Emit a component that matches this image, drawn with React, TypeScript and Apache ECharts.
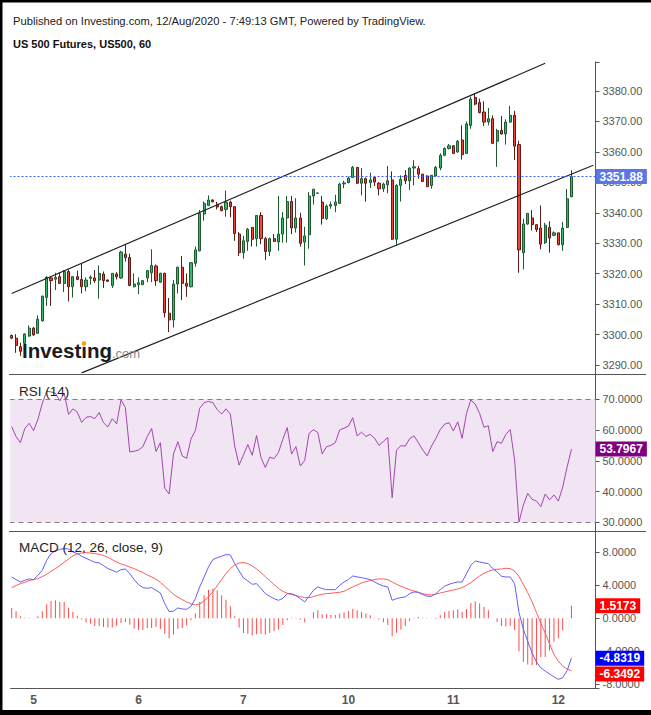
import React, { useEffect, useRef } from 'react';
import * as echarts from 'echarts';

const FONT = '"Liberation Sans", Arial, sans-serif';

// ---------- data ----------
const dayLabels = ['5', '6', '7', '10', '11', '12'];
const dayLabelIndex = [5, 29, 53, 77, 101, 125];
const slotCount = 134; // 129 hourly bars + empty room on the right

const opens = [
  3299.7, 3298.8, 3296.0, 3297.1, 3299.5, 3302.1, 3300.4, 3304.5, 3312.2, 3318.6,
  3318.2, 3319.0, 3316.8, 3320.7, 3315.7, 3319.0, 3318.1, 3315.7, 3318.5, 3318.6,
  3317.9, 3319.9, 3317.9, 3316.1, 3319.9, 3318.6, 3326.4, 3325.3, 3315.7, 3316.4,
  3316.4, 3318.6, 3320.3, 3322.5, 3317.2, 3320.1, 3307.0, 3304.8, 3316.6, 3322.1,
  3316.8, 3315.7, 3323.4, 3327.5, 3339.6, 3342.4, 3344.2, 3342.8, 3342.0, 3341.1,
  3343.5, 3342.0, 3333.0, 3326.9, 3330.6, 3335.2, 3331.5, 3339.1, 3331.5, 3327.3,
  3331.5, 3330.4, 3333.0, 3338.3, 3343.7, 3335.0, 3338.3, 3330.4, 3332.8, 3345.5,
  3346.4, 3343.5, 3338.1, 3342.2, 3342.4, 3343.1, 3349.5, 3349.9, 3351.6, 3354.9,
  3349.7, 3351.2, 3349.9, 3351.6, 3349.7, 3347.9, 3349.2, 3350.8, 3331.3, 3349.0,
  3352.3, 3350.5, 3354.7, 3354.5, 3352.7, 3352.1, 3349.0, 3352.1, 3354.7, 3358.9,
  3361.1, 3362.0, 3360.0, 3363.9, 3359.5, 3368.7, 3377.9, 3376.2, 3373.1, 3369.8,
  3370.9, 3363.5, 3367.0, 3365.9, 3369.8, 3372.0, 3362.4, 3326.9, 3336.3, 3338.3,
  3336.1, 3335.0, 3330.2, 3335.2, 3332.6, 3333.4, 3329.5, 3335.2, 3345.3,
];
const closes = [
  3298.8, 3296.4, 3294.5, 3300.2, 3302.1, 3299.9, 3305.0, 3312.6, 3318.8, 3317.7,
  3318.8, 3316.8, 3320.7, 3315.7, 3319.0, 3318.1, 3315.7, 3317.9, 3318.9, 3317.7,
  3320.1, 3317.7, 3317.5, 3320.1, 3319.0, 3327.1, 3325.3, 3316.1, 3316.6, 3317.0,
  3317.7, 3321.0, 3322.7, 3317.7, 3320.1, 3307.2, 3304.8, 3316.6, 3322.1, 3316.8,
  3315.9, 3323.6, 3327.8, 3339.8, 3343.1, 3344.2, 3343.6, 3341.9, 3340.7, 3343.5,
  3342.0, 3333.2, 3326.9, 3330.8, 3334.6, 3331.3, 3339.1, 3331.5, 3327.3, 3331.5,
  3330.6, 3333.0, 3338.3, 3343.7, 3335.0, 3338.3, 3330.0, 3332.4, 3345.5, 3347.7,
  3346.5, 3338.1, 3342.2, 3342.7, 3343.5, 3349.4, 3349.8, 3351.4, 3354.9, 3349.7,
  3351.2, 3349.7, 3350.8, 3350.1, 3347.9, 3349.4, 3350.5, 3331.3, 3349.0, 3351.0,
  3350.5, 3354.7, 3355.1, 3352.7, 3350.3, 3348.6, 3352.3, 3354.9, 3358.9, 3361.1,
  3362.0, 3359.5, 3363.5, 3359.1, 3369.2, 3377.3, 3375.7, 3372.9, 3369.8, 3370.9,
  3362.8, 3367.0, 3365.9, 3369.8, 3372.0, 3361.9, 3327.8, 3336.3, 3339.8, 3336.1,
  3334.5, 3329.7, 3335.9, 3331.7, 3333.4, 3329.5, 3335.0, 3344.6, 3351.88,
];
const lows = [
  3298.5, 3294.0, 3293.0, 3296.0, 3299.3, 3299.5, 3300.2, 3304.3, 3309.4, 3309.4,
  3314.6, 3316.6, 3314.0, 3310.9, 3312.2, 3317.9, 3313.5, 3314.2, 3316.4, 3317.0,
  3311.8, 3315.3, 3317.3, 3315.3, 3318.1, 3318.3, 3324.0, 3315.9, 3315.5, 3313.3,
  3316.2, 3317.2, 3317.2, 3316.0, 3317.0, 3305.6, 3300.8, 3302.3, 3313.5, 3311.3,
  3312.4, 3315.5, 3322.3, 3327.3, 3337.4, 3342.2, 3343.4, 3341.1, 3340.5, 3338.7,
  3338.5, 3330.8, 3325.8, 3324.9, 3327.5, 3328.9, 3328.9, 3329.7, 3324.5, 3325.8,
  3330.4, 3327.5, 3330.2, 3330.2, 3333.0, 3333.5, 3328.9, 3322.7, 3328.2, 3342.7,
  3346.3, 3336.1, 3337.6, 3341.3, 3340.2, 3342.9, 3348.1, 3349.7, 3351.4, 3349.4,
  3345.7, 3343.7, 3348.1, 3348.8, 3345.7, 3346.8, 3346.4, 3331.1, 3329.3, 3343.7,
  3349.4, 3347.5, 3349.0, 3351.2, 3350.1, 3348.4, 3347.9, 3351.9, 3354.0, 3358.6,
  3360.8, 3359.3, 3359.7, 3357.5, 3359.3, 3367.6, 3375.3, 3372.7, 3368.5, 3368.7,
  3362.6, 3355.1, 3365.7, 3362.4, 3369.6, 3357.3, 3320.3, 3321.4, 3336.1, 3334.2,
  3333.7, 3328.0, 3329.7, 3326.9, 3332.3, 3329.3, 3327.5, 3335.0, 3345.1,
];
const highs = [
  3300.0, 3300.1, 3297.3, 3300.4, 3303.0, 3302.5, 3306.3, 3312.8, 3319.2, 3319.0,
  3320.3, 3320.5, 3321.2, 3321.4, 3319.2, 3321.0, 3323.2, 3318.8, 3319.4, 3321.2,
  3322.7, 3320.7, 3318.1, 3320.1, 3320.5, 3327.5, 3329.7, 3326.6, 3320.1, 3318.8,
  3317.9, 3321.2, 3328.0, 3323.0, 3320.3, 3320.3, 3312.0, 3317.9, 3322.3, 3325.8,
  3320.1, 3323.8, 3328.9, 3340.9, 3343.7, 3345.7, 3344.4, 3343.6, 3342.4, 3347.3,
  3344.0, 3342.2, 3333.7, 3332.4, 3335.0, 3335.2, 3339.1, 3340.2, 3332.1, 3331.9,
  3333.0, 3345.5, 3340.2, 3345.5, 3345.5, 3344.8, 3340.0, 3335.4, 3346.8, 3347.9,
  3346.6, 3345.5, 3342.7, 3343.7, 3345.9, 3349.9, 3350.5, 3351.9, 3355.4, 3354.9,
  3354.7, 3351.6, 3353.2, 3352.1, 3350.1, 3349.9, 3355.4, 3353.6, 3349.4, 3352.3,
  3354.0, 3354.9, 3357.3, 3355.4, 3352.7, 3352.3, 3352.3, 3355.4, 3359.5, 3361.5,
  3362.6, 3362.2, 3363.9, 3368.7, 3370.0, 3378.1, 3379.2, 3377.5, 3376.6, 3374.4,
  3372.0, 3367.6, 3371.8, 3370.7, 3375.1, 3373.5, 3363.7, 3338.0, 3339.9, 3340.9,
  3336.2, 3342.4, 3336.7, 3337.2, 3333.9, 3333.5, 3337.0, 3347.8, 3354.0,
];

const rsiValues = [
  61.1, 57.9, 55.9, 60.5, 62.2, 59.8, 63.5, 68.7, 72.6, 72.4,
  72.0, 69.5, 72.0, 65.1, 66.9, 65.8, 62.5, 64.1, 64.4, 63.7,
  65.7, 62.4, 61.0, 63.7, 62.0, 69.8, 67.3, 52.9, 53.1, 53.5,
  54.6, 57.9, 60.5, 53.0, 55.9, 41.1, 39.2, 52.2, 56.2, 51.6,
  50.8, 57.1, 59.8, 67.1, 68.9, 69.3, 68.9, 66.7, 65.2, 66.9,
  65.2, 54.8, 48.6, 51.9, 55.3, 51.8, 58.2, 51.1, 47.8, 51.2,
  50.7, 52.7, 57.0, 60.8, 52.2, 54.6, 48.3, 50.1, 58.9, 60.1,
  59.2, 52.2, 54.6, 55.0, 55.9, 60.0, 60.6, 61.3, 64.0, 58.1,
  59.3, 57.9, 58.6, 57.3, 55.0, 56.3, 57.6, 38.0, 53.5, 54.9,
  54.8, 57.2, 58.1, 55.9, 53.5, 51.6, 54.8, 57.3, 60.2, 61.9,
  62.4, 59.7, 62.7, 57.3, 65.4, 69.8, 68.4, 65.4, 60.9, 61.4,
  53.0, 56.2, 55.7, 58.6, 60.2, 50.3, 30.1, 35.6, 39.4, 37.5,
  36.9, 35.1, 39.2, 37.3, 38.9, 36.9, 41.4, 47.9, 53.7967,
];

const macdValues = [
  5.01, 4.69, 4.40, 4.61, 4.77, 4.69, 5.21, 5.82, 7.03, 7.84,
  8.16, 8.36, 8.45, 8.40, 8.04, 7.84, 7.52, 7.27, 7.03, 6.79,
  6.71, 6.38, 6.02, 5.82, 5.58, 5.90, 5.98, 5.41, 4.69, 4.08,
  3.72, 3.64, 3.72, 3.39, 3.07, 1.78, 0.81, 0.85, 1.25, 1.13,
  1.09, 1.45, 2.38, 3.80, 5.01, 6.22, 7.11, 7.35, 7.52, 7.72,
  7.68, 6.63, 5.74, 4.89, 4.53, 4.12, 4.20, 3.60, 2.99, 2.67,
  2.38, 2.18, 2.42, 2.99, 2.99, 2.75, 2.38, 1.98, 2.67, 3.39,
  3.80, 3.60, 3.47, 3.47, 3.47, 4.00, 4.40, 4.69, 5.13, 5.01,
  4.93, 4.81, 4.69, 4.40, 4.12, 3.92, 3.80, 2.18, 2.38, 2.51,
  2.59, 2.99, 3.19, 3.15, 2.87, 2.67, 2.67, 2.99, 3.47, 3.88,
  4.12, 4.28, 4.40, 4.40, 5.41, 6.42, 6.95, 6.83, 6.71, 6.63,
  6.02, 5.62, 5.09, 5.01, 5.01, 4.20, 0.70, -1.30, -2.80, -4.20,
  -5.30, -6.00, -6.40, -6.75, -7.10, -7.40, -7.20, -6.35, -4.8319,
];
const signalValues = [
  3.72, 3.96, 4.20, 4.36, 4.57, 4.69, 4.81, 5.05, 5.33, 5.70,
  6.02, 6.38, 6.79, 7.19, 7.56, 7.80, 7.92, 7.96, 7.92, 7.84,
  7.76, 7.60, 7.39, 7.11, 6.83, 6.59, 6.42, 6.22, 6.02, 5.78,
  5.54, 5.25, 5.01, 4.73, 4.36, 3.88, 3.39, 2.91, 2.55, 2.26,
  1.98, 1.74, 1.62, 1.74, 2.10, 2.59, 3.23, 3.96, 4.69, 5.41,
  6.02, 6.46, 6.71, 6.75, 6.63, 6.34, 5.98, 5.54, 5.05, 4.57,
  4.08, 3.64, 3.27, 3.03, 2.87, 2.75, 2.63, 2.51, 2.51, 2.63,
  2.79, 2.91, 2.99, 3.03, 3.11, 3.15, 3.27, 3.56, 3.80, 4.04,
  4.28, 4.44, 4.57, 4.69, 4.77, 4.77, 4.69, 4.40, 4.12, 3.88,
  3.68, 3.47, 3.31, 3.15, 2.99, 2.87, 2.83, 2.91, 3.07, 3.19,
  3.31, 3.43, 3.56, 3.72, 4.00, 4.32, 4.73, 5.13, 5.45, 5.70,
  5.86, 5.94, 5.98, 6.06, 6.02, 5.74, 5.09, 4.10, 3.10, 2.00,
  0.70, -0.60, -1.80, -3.10, -4.40, -5.20, -5.80, -6.15, -6.3492,
];
const histValues = [
  1.25, 0.85, 0.24, 0.08, 0.08, 0.03, 0.24, 0.85, 1.70, 2.10,
  2.18, 1.98, 1.98, 1.29, 0.77, 0.32, -0.16, -0.48, -0.65, -0.93,
  -0.93, -1.05, -1.13, -1.13, -0.93, -0.57, -0.44, -0.77, -1.25, -1.45,
  -1.41, -1.21, -1.17, -1.05, -1.29, -1.86, -2.42, -1.98, -1.29, -1.17,
  -0.85, -0.24, 0.57, 1.98, 2.79, 3.47, 3.60, 3.39, 2.79, 2.26,
  1.45, 0.24, -1.13, -1.78, -1.86, -2.10, -1.94, -1.86, -1.98, -1.78,
  -1.58, -1.37, -0.81, -0.24, 0.08, 0.08, -0.16, -0.48, 0.08, 0.73,
  0.97, 0.48, 0.48, 0.40, 0.40, 0.57, 0.73, 0.89, 1.17, 0.97,
  0.77, 0.57, 0.36, 0.08, -0.16, -0.48, -0.81, -2.18, -1.74, -1.37,
  -0.93, -0.32, 0.08, 0.16, 0.08, -0.04, -0.04, -0.08, 0.36, 0.77,
  0.89, 0.97, 1.09, 0.77, 1.13, 1.86, 2.06, 1.78, 1.37, 0.97,
  0.00, -0.44, -0.93, -1.01, -0.93, -1.42, -4.00, -5.30, -5.60, -5.70,
  -5.70, -4.70, -4.70, -3.90, -2.83, -2.43, -1.48, -0.03, 1.5173,
];

// trend channel, two anchor points each: [bar index, price]
const channelUpper = [[0, 3313.5], [122, 3389.1]];
const channelLower = [[16, 3287.4], [133, 3355.6]];

const priceRange = [3287.04, 3389.53];
const rsiRange = [27.17, 78.23];
const macdRange = [-8.45, 10.58];
const rsiBand = [30, 70];

// ---------- layout ----------
const GRID_LEFT = 9.5;
const GRID_W = 586;
// the signal tag is pushed down a little so it does not sit on the MACD tag
const SIGNAL_TAG_NUDGE = 0.4;

const boxLabel = (text: string, bg: string) => ({
  show: true,
  position: 'end',
  distance: 0,
  formatter: text,
  backgroundColor: bg,
  color: '#fff',
  fontWeight: 'bold',
  fontSize: 12,
  fontFamily: FONT,
  lineHeight: 12,
  padding: [2, 4, 1, 4],
});

const hiddenLine = { color: 'rgba(0,0,0,0)', width: 0 };

export default function App() {
  const ref = useRef<HTMLDivElement>(null);

  useEffect(() => {
    const el = ref.current;
    if (!el) return;
    const chart = echarts.init(el, null, { renderer: 'svg' });

    const cats = Array.from({ length: slotCount }, (_, i) => String(i));
    const candleData = opens.map((o, i) => [o, closes[i], lows[i], highs[i]]);
    const lastClose = closes[closes.length - 1];
    const lastRsi = rsiValues[rsiValues.length - 1];
    const lastMacd = macdValues[macdValues.length - 1];
    const lastSignal = signalValues[signalValues.length - 1];
    const lastHist = histValues[histValues.length - 1];

    const isMultiple = (v: number, step: number) => Math.abs(v / step - Math.round(v / step)) < 1e-6;

    const yCommon = (gridIndex: number, range: number[], step: number, digits: number) => ({
      type: 'value',
      gridIndex,
      position: 'right',
      min: range[0],
      max: range[1],
      minInterval: step,
      maxInterval: step,
      splitLine: { show: false },
      axisLine: { show: true, onZero: false, lineStyle: { color: '#555', width: 1 } },
      axisTick: { show: true, length: 4, lineStyle: { color: '#555' } },
      axisLabel: {
        show: true,
        showMinLabel: true,
        showMaxLabel: true,
        color: '#555',
        fontSize: 11,
        fontFamily: FONT,
        margin: 7,
        formatter: (v: number) => (isMultiple(v, step) ? v.toFixed(digits) : ''),
      },
    });

    const hiddenCat = (gridIndex: number) => ({
      type: 'category',
      gridIndex,
      data: cats,
      boundaryGap: true,
      show: false,
      axisLine: { show: false, onZero: false },
    });

    const option = {
      animation: false,
      backgroundColor: '#fff',
      textStyle: { fontFamily: FONT },
      grid: [
        { left: GRID_LEFT, top: 62, width: GRID_W, height: 312 },
        { left: GRID_LEFT, top: 374, width: GRID_W, height: 157 },
        { left: GRID_LEFT, top: 531, width: GRID_W, height: 157 },
      ],
      xAxis: [
        hiddenCat(0),
        hiddenCat(1),
        {
          type: 'category',
          gridIndex: 2,
          data: cats,
          boundaryGap: true,
          axisLine: { show: true, onZero: false, lineStyle: { color: '#555' } },
          axisTick: { show: false },
          axisLabel: {
            interval: 0,
            color: '#555',
            fontSize: 12,
            fontWeight: 'bold',
            fontFamily: FONT,
            margin: 6,
            formatter: (_v: string, idx: number) => {
              const k = dayLabelIndex.indexOf(idx);
              return k >= 0 ? dayLabels[k] : '';
            },
          },
        },
      ],
      yAxis: [
        yCommon(0, priceRange, 10, 2),
        yCommon(1, rsiRange, 10, 4),
        yCommon(2, macdRange, 4, 4),
      ],
      series: [
        {
          type: 'candlestick',
          xAxisIndex: 0,
          yAxisIndex: 0,
          data: candleData,
          barWidth: 2.6,
          itemStyle: {
            color: '#36b86a',
            color0: '#f0453a',
            borderColor: '#1d5a30',
            borderColor0: '#5e1a14',
            borderWidth: 1,
          },
          markLine: {
            silent: true,
            symbol: 'none',
            data: [
              {
                yAxis: lastClose,
                lineStyle: { color: '#3f5fec', type: [2, 2], width: 1 },
                label: boxLabel(lastClose.toFixed(2), '#5a76e8'),
              },
            ],
          },
        },
        {
          type: 'line',
          xAxisIndex: 0,
          yAxisIndex: 0,
          data: channelUpper,
          symbol: 'none',
          silent: true,
          lineStyle: { color: '#222', width: 1.2 },
        },
        {
          type: 'line',
          xAxisIndex: 0,
          yAxisIndex: 0,
          data: channelLower,
          symbol: 'none',
          silent: true,
          lineStyle: { color: '#222', width: 1.2 },
        },
        {
          type: 'line',
          xAxisIndex: 1,
          yAxisIndex: 1,
          data: rsiValues,
          symbol: 'none',
          silent: true,
          lineStyle: { color: '#a347b0', width: 1 },
          markArea: {
            silent: true,
            itemStyle: { color: '#f1e4f3' },
            data: [[{ yAxis: rsiBand[0] }, { yAxis: rsiBand[1] }]],
          },
          markLine: {
            silent: true,
            symbol: 'none',
            label: { show: false },
            data: [
              { yAxis: rsiBand[1], lineStyle: { color: '#857a85', type: [5, 4], width: 1 } },
              { yAxis: rsiBand[0], lineStyle: { color: '#857a85', type: [5, 4], width: 1 } },
              { yAxis: lastRsi, lineStyle: hiddenLine, label: boxLabel(lastRsi.toFixed(4), '#800080') },
            ],
          },
        },
        {
          type: 'bar',
          xAxisIndex: 2,
          yAxisIndex: 2,
          data: histValues,
          barWidth: 1,
          silent: true,
          itemStyle: { color: '#ff4a4a' },
          markLine: {
            silent: true,
            symbol: 'none',
            data: [
              { yAxis: lastHist, lineStyle: hiddenLine, label: boxLabel(lastHist.toFixed(4), '#ff0000') },
            ],
          },
        },
        {
          type: 'line',
          xAxisIndex: 2,
          yAxisIndex: 2,
          data: signalValues,
          symbol: 'none',
          silent: true,
          lineStyle: { color: '#ff5c5c', width: 1 },
          markLine: {
            silent: true,
            symbol: 'none',
            data: [
              {
                yAxis: lastSignal - SIGNAL_TAG_NUDGE,
                lineStyle: hiddenLine,
                label: boxLabel(lastSignal.toFixed(4), '#ff0000'),
              },
            ],
          },
        },
        {
          type: 'line',
          xAxisIndex: 2,
          yAxisIndex: 2,
          data: macdValues,
          symbol: 'none',
          silent: true,
          lineStyle: { color: '#5f5fff', width: 1 },
          markLine: {
            silent: true,
            symbol: 'none',
            data: [
              { yAxis: lastMacd, lineStyle: hiddenLine, label: boxLabel(lastMacd.toFixed(4), '#0000ff') },
            ],
          },
        },
      ],
      graphic: [
        // white margin strip left of the panes (keeps the area between frame and panes clean)
        { type: 'rect', z: 40, shape: { x: 2.5, y: 58, width: 7.6, height: 652 }, style: { fill: '#fff' } },
        // frame
        { type: 'rect', z: 200, shape: { x: 0, y: 0, width: 651, height: 2.5 }, style: { fill: '#000' } },
        { type: 'rect', z: 200, shape: { x: 0, y: 0, width: 2.5, height: 715 }, style: { fill: '#000' } },
        { type: 'rect', z: 200, shape: { x: 0, y: 710, width: 651, height: 5 }, style: { fill: '#000' } },
        // header
        {
          type: 'text', x: 13, y: 21, z: 100,
          style: {
            text: 'Published on Investing.com, 12/Aug/2020 - 7:49:13 GMT, Powered by TradingView.',
            fill: '#222', fontSize: 11.2, fontFamily: FONT, verticalAlign: 'middle',
          },
        },
        {
          type: 'text', x: 13, y: 44, z: 100,
          style: {
            text: 'US 500 Futures, US500, 60',
            fill: '#111', fontSize: 11, fontWeight: 'bold', fontFamily: FONT, verticalAlign: 'middle',
          },
        },
        // pane separators
        { type: 'line', z: 50, shape: { x1: 9, y1: 374.5, x2: 646, y2: 374.5 }, style: { stroke: '#555', lineWidth: 1 } },
        { type: 'line', z: 50, shape: { x1: 9, y1: 531.5, x2: 646, y2: 531.5 }, style: { stroke: '#555', lineWidth: 1 } },
        // pane titles
        {
          type: 'text', x: 19, y: 391, z: 100,
          style: { text: 'RSI (14)', fill: '#222', fontSize: 13.5, fontFamily: FONT, verticalAlign: 'middle' },
        },
        {
          type: 'text', x: 19, y: 547, z: 100,
          style: { text: 'MACD (12, 26, close, 9)', fill: '#222', fontSize: 13.5, fontFamily: FONT, verticalAlign: 'middle' },
        },
        // watermark
        {
          type: 'text', x: 22, y: 350, z: 100,
          style: { text: 'Investing', fill: '#1b1b1b', fontSize: 20.5, fontWeight: 'bold', fontFamily: FONT, verticalAlign: 'middle' },
        },
        {
          type: 'text', x: 112, y: 353, z: 100,
          style: { text: '.com', fill: '#8a8a8a', fontSize: 13, fontFamily: FONT, verticalAlign: 'middle' },
        },
        { type: 'circle', z: 101, shape: { cx: 84, cy: 343.6, r: 2.3 }, style: { fill: '#f5a01a' } },
      ],
    };

    chart.setOption(option as any);
    return () => chart.dispose();
  }, []);

  return (
    <div
      ref={ref}
      style={{ position: 'fixed', left: 0, top: 0, width: 651, height: 715, background: '#fff' }}
    />
  );
}
